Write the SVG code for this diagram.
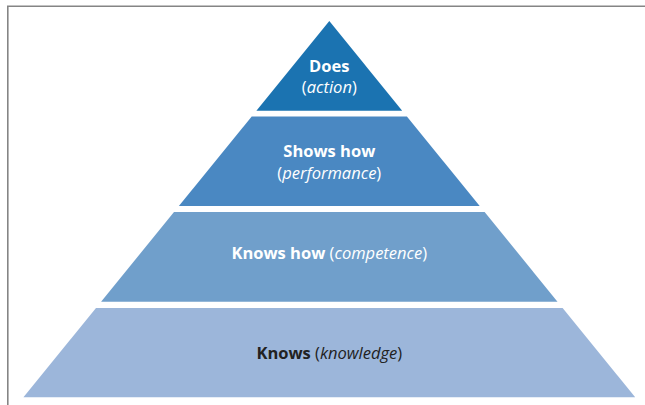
<svg xmlns="http://www.w3.org/2000/svg" width="645" height="405" viewBox="0 0 645 405">
<style>
.t{font-family:"Open Sans","Liberation Sans",sans-serif;font-size:16.5px;text-anchor:middle;fill:#ffffff}
.d{fill:#222222}
.b{font-weight:bold}
.i{font-style:italic}
</style>
<rect width="645" height="405" fill="#ffffff"/>
<path d="M7.8,405 V6.2 H645" fill="none" stroke="#858585" stroke-width="1.6"/>
<g id="tier-does">
<polygon points="329.3,21 402.2,110.7 256.4,110.7" fill="#1b73b1"/>
<text class="t" x="329.3" y="71.7"><tspan class="b">Does</tspan></text>
<text class="t" x="329.3" y="92.5">(<tspan class="i">action</tspan>)</text>
</g>
<g id="tier-shows-how">
<polygon points="251.7,116.5 406.9,116.5 479.7,206 178.9,206" fill="#4a88c2"/>
<text class="t" x="329.3" y="157.3"><tspan class="b">Shows how</tspan></text>
<text class="t" x="329.3" y="179">(<tspan class="i">performance</tspan>)</text>
</g>
<g id="tier-knows-how">
<polygon points="174,212 484.6,212 557.5,301.7 101.1,301.7" fill="#709fcb"/>
<text class="t" x="329.3" y="259.3"><tspan class="b">Knows how</tspan> (<tspan class="i">competence</tspan>)</text>
</g>
<g id="tier-knows">
<polygon points="96,308 562.6,308 635.2,397.3 23.4,397.3" fill="#9cb6da"/>
<text class="t d" x="329.3" y="359"><tspan class="b">Knows</tspan> (<tspan class="i">knowledge</tspan>)</text>
</g>
<g id="connectors"/>
</svg>
